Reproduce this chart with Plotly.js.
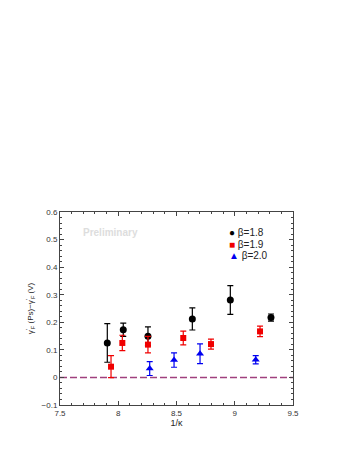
<!DOCTYPE html>
<html lang="en">
    <head>
        <meta charset="UTF-8">
        <title>gamma_F difference vs 1/kappa</title>
        <script src="https://cdn.plot.ly/plotly-3.0.1.min.js"></script>
        <style>body { margin: 0; }</style>
    </head>
    <body>

        <div id="plot"></div>

        <script>
        // beta = 1.8
        const x18 = [7.906, 8.043, 8.255, 8.636, 8.962, 9.311];
        const y18 = [0.125, 0.173, 0.149, 0.212, 0.281, 0.217];
        const e18 = [0.070, 0.024, 0.034, 0.040, 0.052, 0.013];

        // beta = 1.9
        const x19 = [7.938, 8.035, 8.255, 8.558, 8.796, 9.217];
        const y19 = [0.039, 0.125, 0.119, 0.143, 0.121, 0.167];
        const e19 = [0.040, 0.028, 0.030, 0.025, 0.018, 0.019];

        // beta = 2.0
        const x20 = [8.270, 8.479, 8.702, 9.180];
        const y20 = [0.032, 0.063, 0.086, 0.064];
        const e20 = [0.025, 0.026, 0.036, 0.015];

        const zeroX = [7.5, 9.5];
        const zeroY = [0, 0];

        const names = ['β=1.8', 'β=1.9', 'β=2.0'];
        const colors = ['black', '#f00000', '#0000f0'];
        const glyphs = ['●', '■', '▲'];

        const font = 'Liberation Sans, Arial, sans-serif';

        function series(x, y, e, i, symbol, size) {
            return {
                x: x, y: y, name: names[i],
                type: 'scatter', mode: 'markers',
                marker: { color: colors[i], symbol: symbol, size: size },
                error_y: { type: 'data', array: e, visible: true,
                           color: colors[i], thickness: 1.2, width: 3 }
            };
        }

        const traces = [
            {
                x: zeroX, y: zeroY, type: 'scatter', mode: 'lines',
                line: { color: '#a0407e', dash: '7px,3px', width: 1.5 },
                hoverinfo: 'skip'
            },
            series(x18, y18, e18, 0, 'circle', 7),
            series(x19, y19, e19, 1, 'square', 6),
            series(x20, y20, e20, 2, 'triangle-up', 7)
        ];

        const axisCommon = {
            showgrid: false, zeroline: false,
            showline: true, linecolor: '#444', linewidth: 1, mirror: 'allticks',
            ticks: 'inside', ticklen: 4, tickcolor: '#444',
            tickfont: { family: font, size: 8, color: '#333' },
            minor: { ticks: 'inside', ticklen: 2, tickcolor: '#444' }
        };

        // legend drawn as text lines, one per series
        const legendAnn = names.map((n, i) => ({
            text: '<span style="color:' + colors[i] + '">' + glyphs[i] + '</span> ' + n,
            xref: 'paper', yref: 'paper',
            x: 0.718, y: 0.892 - i * 0.058, xanchor: 'left', yanchor: 'middle',
            showarrow: false,
            font: { family: font, size: 10, color: '#222' }
        }));

        const layout = {
            width: 354, height: 458,
            margin: { l: 60, r: 61, t: 212, b: 53 },
            paper_bgcolor: 'white', plot_bgcolor: 'white',
            showlegend: false,
            xaxis: Object.assign({}, axisCommon, {
                range: [7.5, 9.5], dtick: 0.5, tick0: 7.5,
                minor: Object.assign({}, axisCommon.minor, { dtick: 0.1 }),
                title: { text: '1/κ', font: { family: font, size: 9, color: '#222' }, standoff: 2 }
            }),
            yaxis: Object.assign({}, axisCommon, {
                range: [-0.1, 0.6], dtick: 0.1, tick0: 0,
                minor: Object.assign({}, axisCommon.minor, { dtick: 0.02 }),
                title: { text: "γ<sup>'</sup><sub>F</sub> (Ps)−γ<sup>'</sup><sub>F</sub> (V)",
                         font: { family: font, size: 8, color: '#222' }, standoff: 6 }
            }),
            annotations: [{
                text: '<b>Preliminary</b>', xref: 'paper', yref: 'paper',
                x: 0.09, y: 0.895, xanchor: 'left', yanchor: 'middle', showarrow: false,
                font: { family: font, size: 10, color: '#dddddd' }
            }].concat(legendAnn)
        };

        Plotly.newPlot('plot', traces, layout, { displayModeBar: false, staticPlot: true });
        </script>

    </body>
</html>
